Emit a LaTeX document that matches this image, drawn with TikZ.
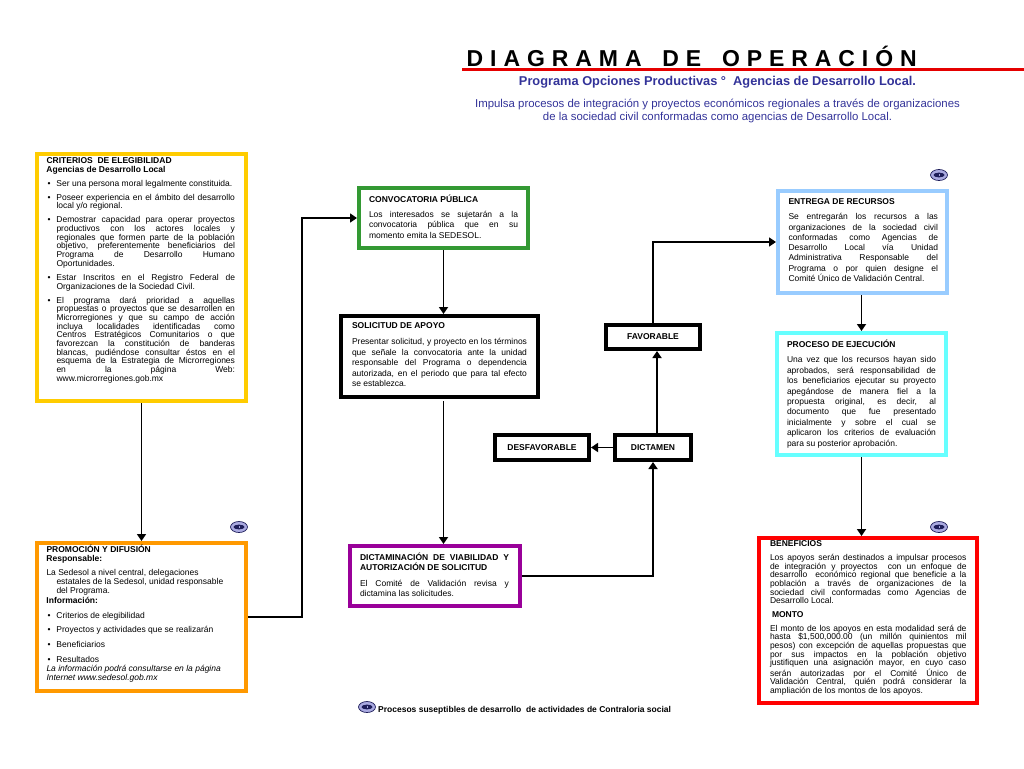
\documentclass[tikz,border=0pt]{standalone}
\usepackage{fontspec}
\setmainfont{Liberation Sans}
\usetikzlibrary{arrows.meta}
\definecolor{critcolor}{RGB}{255,204,0}
\definecolor{promocolor}{RGB}{255,153,0}
\definecolor{convcolor}{RGB}{51,153,51}
\definecolor{dtmcolor}{RGB}{153,0,153}
\definecolor{entrcolor}{RGB}{153,204,255}
\definecolor{proccolor}{RGB}{102,255,255}
\definecolor{benefcolor}{RGB}{255,0,0}
\definecolor{subcolor}{RGB}{51,51,153}
\definecolor{eyefill}{RGB}{170,170,225}
\definecolor{eyedark}{RGB}{30,30,90}
% height, left pad, right pad, top pad, line spacing, body
\newcommand{\flowtext}[6]{\vbox to #1pt{\fontsize{8.5}{#5}\selectfont
	\parindent=0pt\parskip=0pt\parfillskip=0pt plus 1fil\leftskip=#2pt\rightskip=#3pt\relax
	\spaceskip=.278em plus 2em minus .05em\xspaceskip=\spaceskip\tolerance=9999\hbadness=10000\hfuzz=3pt\hyphenpenalty=10000\exhyphenpenalty=10000
	\vskip#4pt #6\par\vss}}
\newcommand{\itm}[1]{\par\vskip5.3pt\hangindent=10pt\hangafter=1\noindent\makebox[10pt][l]{\hspace{1pt}\textbullet}#1\par}
\begin{document}
\begin{tikzpicture}[x=1pt, y=-1pt, >={Triangle[width=9pt,length=7pt]}, line join=miter]
	\tikzset{
		flowbox/.style={draw=#1, line width=4pt, anchor=north west, inner sep=0pt, fill=white},
		tagbox/.style={draw=black, line width=4pt, anchor=north west, inner sep=0pt, font=\fontsize{8.5}{10}\selectfont\bfseries},
		flow/.style={->, line width=1.7pt, black},
		eyeicon/.pic={
			\draw [fill=eyefill, draw=eyedark, line width=.7pt] (0,0) ellipse (8.5 and 5.5);
			\fill [eyedark] (0,0) ellipse (5.5 and 2.4);
			\fill [eyefill] (-.5,-1.4) rectangle (.5,1.4);
		}
	}
	\useasboundingbox (0,0) rectangle (1024,768);
	% heading
	\node [anchor=west, inner sep=0pt, font=\fontsize{23}{24}\selectfont\bfseries] (title) at (466.5,56) {\makebox[450pt][s]{D I A G R A M A \ \ D E \ \ O P E R A C I Ó N}};
	\coordinate (ruleL) at (462,69);
	\coordinate (ruleR) at (1024,69);
	\draw [line width=3pt, red!90!black] (ruleL)--(ruleR);
	\node [subcolor, font=\fontsize{12.8}{14}\selectfont\bfseries] (subtitle) at (717.5,82) {Programa Opciones Productivas ° \ Agencias de Desarrollo Local.};
	\node [subcolor, align=center, font=\fontsize{11.4}{13}\selectfont] (tagline) at (717.5,111) {Impulsa procesos de integración y proyectos económicos regionales a través de organizaciones\\de la sociedad civil conformadas como agencias de Desarrollo Local.};
	% left column
	\node [flowbox=critcolor, text width=209pt] (crit) at (35,152) {\flowtext{247}{9.5}{11}{3.5}{8.7}{\textbf{CRITERIOS \ DE ELEGIBILIDAD}\par\textbf{Agencias de Desarrollo Local}
		\itm{Ser una persona moral legalmente constituida.}
		\itm{Poseer experiencia en el ámbito del desarrollo\break local y/o regional.}
		\itm{Demostrar capacidad para operar proyectos\break productivos con los actores locales y\break regionales que formen parte de la población\break objetivo, preferentemente beneficiarios del\break Programa de Desarrollo Humano\break Oportunidades.}
		\itm{Estar Inscritos en el Registro Federal de\break Organizaciones de la Sociedad Civil.}
		\itm{El programa dará prioridad a aquellas\break propuestas o proyectos que se desarrollen en\break Microrregiones y que su campo de acción\break incluya localidades identificadas como\break Centros Estratégicos Comunitarios o que\break favorezcan la constitución de banderas\break blancas, pudiéndose consultar éstos en el\break esquema de la Estrategia de Microrregiones\break en la página Web:\break www.microrregiones.gob.mx}}};
	\node [flowbox=promocolor, text width=209pt] (promo) at (35,541) {\flowtext{148}{9.5}{11}{1.5}{9.4}{\textbf{PROMOCIÓN Y DIFUSIÓN}\par\textbf{Responsable:}\par\vskip4.3pt
		\hangindent=10pt\hangafter=1 La Sedesol a nivel central, delegaciones\hfil\break estatales de la Sedesol, unidad responsable\hfil\break del Programa.\par
		\textbf{Información:}
		\itm{Criterios de elegibilidad}
		\itm{Proyectos y actividades que se realizarán}
		\itm{Beneficiarios}
		\itm{Resultados}
		\textit{La información podrá consultarse en la página}\par\textit{Internet www.sedesol.gob.mx}}};
	% middle column
	\node [flowbox=convcolor, text width=169pt] (conv) at (357,186) {\flowtext{60}{10}{10}{6.5}{10.2}{\textbf{CONVOCATORIA PÚBLICA}\par\vskip5.5pt Los interesados se sujetarán a la\break convocatoria pública que en su\break momento emita la SEDESOL.}};
	\node [flowbox=black, text width=197pt] (soli) at (339,314) {\flowtext{81}{11}{11}{7}{10.4}{\textbf{SOLICITUD DE APOYO}\par\vskip5.5pt Presentar solicitud, y proyecto en los términos\break que señale la convocatoria ante la unidad\break responsable del Programa o dependencia\break autorizada, en el periodo que para tal efecto\break se establezca.}};
	\node [flowbox=dtmcolor, text width=170pt] (dtm) at (348,544) {\flowtext{60}{10}{11}{6.5}{10.6}{\textbf{DICTAMINACIÓN DE VIABILIDAD Y\break AUTORIZACIÓN DE SOLICITUD}\par\vskip5pt El Comité de Validación revisa y\break dictamina las solicitudes.}};
	\node [tagbox, minimum width=94pt, minimum height=25pt] (desf) at (493,433) {DESFAVORABLE};
	\node [tagbox, minimum width=76pt, minimum height=25pt] (dict) at (613,433) {DICTAMEN};
	\node [tagbox, minimum width=94pt, minimum height=24pt] (fav) at (604,323) {FAVORABLE\hspace{10pt}};
	% right column
	\node [flowbox=entrcolor, text width=169pt] (entr) at (776,189) {\flowtext{102}{10.5}{9}{7.5}{10.3}{\textbf{ENTREGA DE RECURSOS}\par\vskip5pt Se entregarán los recursos a las\break organizaciones de la sociedad civil\break conformadas como Agencias de\break Desarrollo Local vía Unidad\break Administrativa Responsable del\break Programa o por quien designe el\break Comité Único de Validación Central.}};
	\node [flowbox=proccolor, text width=169pt] (proc) at (775,331) {\flowtext{122}{10}{10}{6.5}{10.4}{\textbf{PROCESO DE EJECUCIÓN}\par\vskip5.5pt Una vez que los recursos hayan sido\break aprobados, será responsabilidad de\break los beneficiarios ejecutar su proyecto\break apegándose de manera fiel a la\break propuesta original, es decir, al\break documento que fue presentado\break inicialmente y sobre el cual se\break aplicaron los criterios de evaluación\break para su posterior aprobación.}};
	\node [flowbox=benefcolor, text width=218pt] (benef) at (757,536) {\flowtext{165}{11}{10.5}{2.5}{8.7}{\textbf{BENEFICIOS}\par\vskip5.3pt Los apoyos serán destinados a impulsar procesos\break de integración y proyectos \ con un enfoque de\break desarrollo \ económico regional que beneficie a la\break población a través de organizaciones de la\break sociedad civil conformadas como Agencias de\break Desarrollo Local.\par\vskip4.5pt
		\hspace*{2pt}\textbf{MONTO}\par\vskip5.3pt El monto de los apoyos en esta modalidad será de\break hasta \$1,500,000.00 (un millón quinientos mil\break pesos) con excepción de aquellas propuestas que\break por sus impactos en la población objetivo\break justifiquen una asignación mayor, en cuyo caso\break serán autorizadas por el Comité Único de\break Validación Central, quién podrá considerar la\break ampliación de los montos de los apoyos.}};
	% connectors
	\coordinate (riser) at (302,400);
	\draw [flow] (crit.south)--(promo.north);
	\draw [flow] (promo.east) -| (riser) |- (conv.west);
	\draw [flow] (conv.south)--(conv.south |- soli.north);
	\draw [flow, shorten <=2pt] (conv.south |- soli.south)--(conv.south |- dtm.north);
	\draw [flow] (dtm.east) -| (dict.south);
	\draw [flow] (dict.west)--(desf.east);
	\draw [flow] ([xshift=4pt]dict.north)--([xshift=4pt]fav.south);
	\draw [flow] (fav.north) |- (entr.west);
	\draw [flow] (proc.north |- entr.south)--(proc.north);
	\draw [flow] (proc.south)--(proc.south |- benef.north);
	% eye marks
	\pic at (939,175) {eyeicon};
	\pic at (239,527) {eyeicon};
	\pic at (939,527) {eyeicon};
	\pic at (367,707) {eyeicon};
	\node [anchor=west, inner sep=0pt, font=\fontsize{8.5}{10}\selectfont\bfseries] (legend) at (378,710) {Procesos suseptibles de desarrollo \ de actividades de Contraloria social};
\end{tikzpicture}
\end{document}
